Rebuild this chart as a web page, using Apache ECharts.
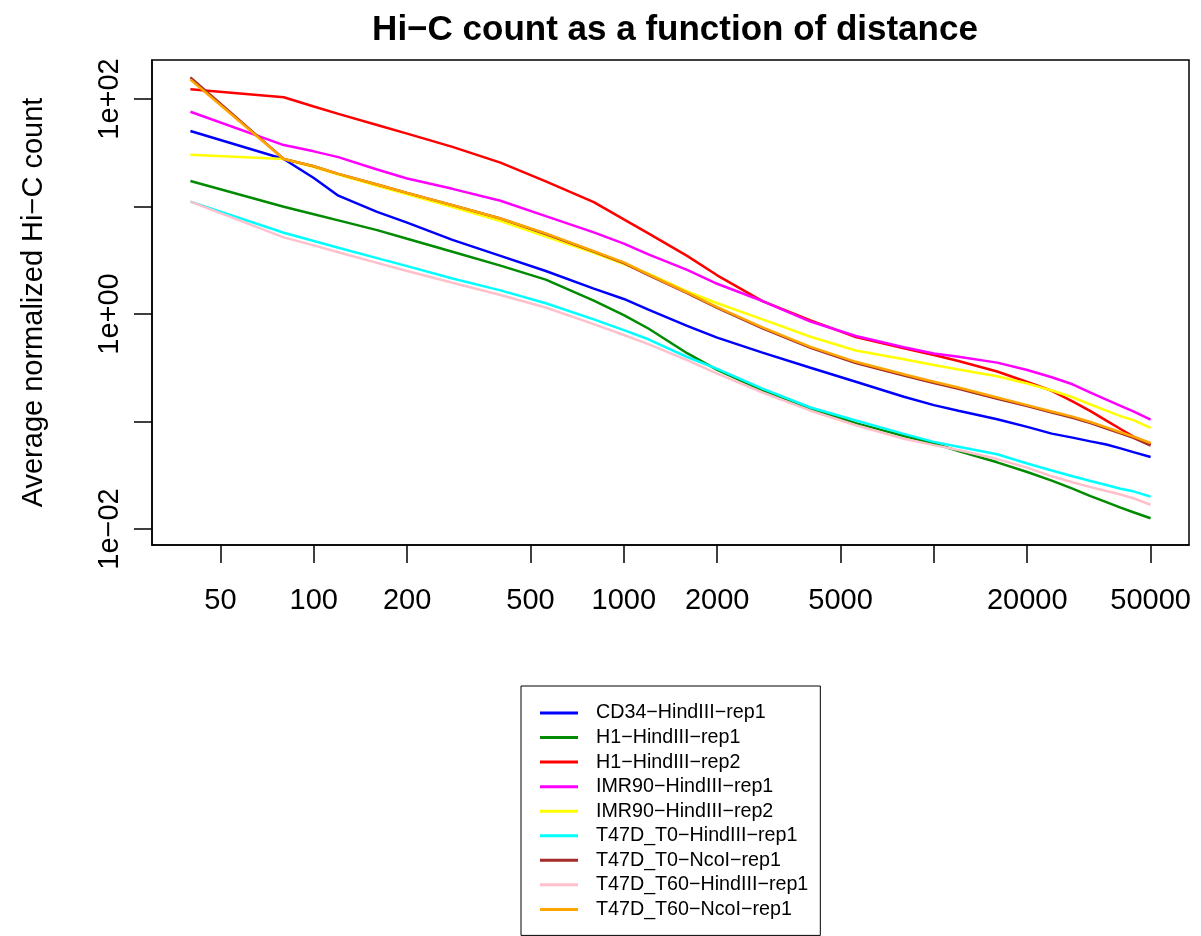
<!DOCTYPE html>
<html>
<head>
<meta charset="utf-8">
<script src="https://cdn.jsdelivr.net/npm/echarts@6/dist/echarts.min.js"></script>
<style>
html,body{margin:0;padding:0;background:#fff;}
#chart{width:1201px;height:936px;}
</style>
</head>
<body>
<div id="chart"></div>
<script>
// Distance (x) sample points
const distances = [40, 80, 100, 120, 160, 200, 280, 400, 560, 800, 1000, 1200, 1600, 2000, 2800, 4000, 5600, 8000, 10000, 12000, 16000, 20000, 24000, 28000, 32000, 36000, 40000, 44000, 50000];

// Average normalized Hi-C counts
const cd34HindIIIRep1 = [50.4, 27.7, 18.4, 12.6, 8.91, 7.08, 4.90, 3.47, 2.51, 1.72, 1.38, 1.10, 0.776, 0.603, 0.437, 0.316, 0.234, 0.170, 0.142, 0.126, 0.105, 0.0891, 0.0771, 0.0708, 0.0653, 0.0610, 0.0562, 0.0519, 0.0468];
const h1HindIIIRep1 = [17.3, 9.95, 8.46, 7.43, 6.03, 5.01, 3.80, 2.82, 2.09, 1.33, 0.977, 0.733, 0.432, 0.302, 0.195, 0.132, 0.0966, 0.0733, 0.0624, 0.0531, 0.0417, 0.0339, 0.0282, 0.0237, 0.0202, 0.0178, 0.0158, 0.0143, 0.0126];
const h1HindIIIRep2 = [123, 104, 85.1, 72.8, 57.3, 47.6, 35.9, 25.6, 17.1, 11.0, 7.59, 5.62, 3.47, 2.29, 1.32, 0.871, 0.609, 0.479, 0.415, 0.366, 0.292, 0.233, 0.193, 0.154, 0.125, 0.102, 0.0851, 0.0724, 0.0617];
const imr90HindIIIRep1 = [76.2, 37.3, 32.6, 28.8, 22.1, 18.2, 14.6, 11.3, 8.13, 5.75, 4.52, 3.59, 2.57, 1.91, 1.32, 0.851, 0.624, 0.490, 0.430, 0.400, 0.353, 0.301, 0.258, 0.222, 0.186, 0.160, 0.140, 0.124, 0.104];
const imr90HindIIIRep2 = [30.3, 27.7, 23.3, 19.8, 15.6, 13.0, 9.86, 7.33, 5.25, 3.70, 2.92, 2.37, 1.62, 1.26, 0.891, 0.614, 0.457, 0.380, 0.335, 0.305, 0.264, 0.226, 0.194, 0.168, 0.144, 0.126, 0.112, 0.103, 0.0871];
const t47dT0HindIIIRep1 = [11.1, 5.70, 4.78, 4.14, 3.31, 2.79, 2.14, 1.66, 1.26, 0.891, 0.708, 0.582, 0.398, 0.309, 0.202, 0.135, 0.102, 0.0767, 0.0646, 0.0582, 0.0495, 0.0407, 0.0350, 0.0309, 0.0280, 0.0257, 0.0237, 0.0224, 0.0200];
const t47dT0NcoIRep1 = [159, 27.7, 23.7, 20.1, 16.0, 13.4, 10.3, 7.73, 5.55, 3.80, 2.97, 2.30, 1.56, 1.14, 0.735, 0.485, 0.350, 0.268, 0.228, 0.202, 0.163, 0.139, 0.121, 0.108, 0.0965, 0.0860, 0.0775, 0.0705, 0.0598];
const t47dT60HindIIIRep1 = [11.1, 5.16, 4.35, 3.76, 2.99, 2.51, 1.95, 1.50, 1.15, 0.804, 0.638, 0.525, 0.372, 0.279, 0.186, 0.126, 0.0923, 0.0692, 0.0603, 0.0543, 0.0447, 0.0372, 0.0309, 0.0272, 0.0245, 0.0226, 0.0209, 0.0193, 0.0168];
const t47dT60NcoIRep1 = [152, 27.7, 23.7, 20.1, 16.0, 13.4, 10.3, 7.73, 5.62, 3.85, 3.02, 2.34, 1.585, 1.16, 0.750, 0.495, 0.359, 0.275, 0.234, 0.207, 0.167, 0.142, 0.124, 0.111, 0.0989, 0.0881, 0.0794, 0.0723, 0.0631];

const seriesNames = ['CD34\u2212HindIII\u2212rep1', 'H1\u2212HindIII\u2212rep1', 'H1\u2212HindIII\u2212rep2', 'IMR90\u2212HindIII\u2212rep1', 'IMR90\u2212HindIII\u2212rep2', 'T47D_T0\u2212HindIII\u2212rep1', 'T47D_T0\u2212NcoI\u2212rep1', 'T47D_T60\u2212HindIII\u2212rep1', 'T47D_T60\u2212NcoI\u2212rep1'];
const seriesValues = [cd34HindIIIRep1, h1HindIIIRep1, h1HindIIIRep2, imr90HindIIIRep1, imr90HindIIIRep2, t47dT0HindIIIRep1, t47dT0NcoIRep1, t47dT60HindIIIRep1, t47dT60NcoIRep1];
const seriesColors = ['#0000FF', '#008B00', '#FF0000', '#FF00FF', '#FFFF00', '#00FFFF', '#A52A2A', '#FFC0CB', '#FFA500'];

// Tick marks and labels
const xTickValues = [50, 100, 200, 500, 1000, 2000, 5000, 10000, 20000, 50000];
const xLabelValues = [50, 100, 200, 500, 1000, 2000, 5000, 20000, 50000];
const yTickValues = [0.01, 0.1, 1, 10, 100];
const yLabelValues = [0.01, 1, 100];
const yTickLabels = ['1e\u221202', '1e+00', '1e+02'];

const FONT = '"Liberation Sans", Arial, Helvetica, sans-serif';
const lg = Math.log10;

// R-style axis range: data range extended by 4% on each side (in log space)
const xLo = lg(distances[0]), xHi = lg(distances[distances.length - 1]);
const xPad = 0.04 * (xHi - xLo);

const chart = echarts.init(document.getElementById('chart'), null, {renderer: 'canvas'});

const series = seriesNames.map((name, k) => ({
  name: name,
  type: 'line',
  data: distances.map((d, i) => [lg(d), lg(seriesValues[k][i])]),
  showSymbol: false,
  symbol: 'none',
  smooth: false,
  lineStyle: {color: seriesColors[k], width: 2.5},
  itemStyle: {color: seriesColors[k]},
  emphasis: {disabled: true},
  z: 2 + k
}));

chart.setOption({
  animation: false,
  backgroundColor: '#ffffff',
  textStyle: {fontFamily: FONT, color: '#000'},
  title: {
    text: 'Hi\u2212C count as a function of distance',
    left: 670,
    textAlign: 'center',
    top: 8,
    textStyle: {fontFamily: FONT, fontSize: 35, fontWeight: 'bold', color: '#000'}
  },
  grid: {
    left: 152, right: 12, top: 60, bottom: 391,
    show: true, borderColor: '#000', borderWidth: 1.5, backgroundColor: 'transparent',
    containLabel: false, outerBoundsMode: 'none'
  },
  legend: {
    orient: 'vertical',
    left: 521, top: 686,
    padding: [17, 12, 16, 19],
    itemWidth: 38, itemHeight: 3,
    itemGap: 4.55,
    icon: 'rect',
    borderColor: '#000', borderWidth: 1,
    backgroundColor: '#fff',
    selectedMode: false,
    textStyle: {fontFamily: FONT, fontSize: 19.7, color: '#000', lineHeight: 20, padding: [0, 0, 0, 13]},
    data: seriesNames
  },
  xAxis: {
    type: 'value',
    min: xLo - xPad,
    max: xHi + xPad,
    axisLine: {show: true, onZero: false, lineStyle: {color: '#000', width: 1.5}},
    axisTick: {show: true, inside: false, length: 18, lineStyle: {color: '#000', width: 1.5}, customValues: xTickValues.map(lg)},
    axisLabel: {
      show: true, margin: 41, fontSize: 29, color: '#000', fontFamily: FONT,
      customValues: xLabelValues.map(lg),
      formatter: v => String(Math.round(Math.pow(10, v)))
    },
    splitLine: {show: false}
  },
  yAxis: {
    type: 'value',
    min: -2.149,
    max: 2.363,
    name: 'Average normalized Hi\u2212C count',
    nameLocation: 'middle',
    nameGap: 104,
    nameRotate: 90,
    nameTextStyle: {fontFamily: FONT, fontSize: 29, color: '#000'},
    axisLine: {show: true, onZero: false, lineStyle: {color: '#000', width: 1.5}},
    axisTick: {show: true, inside: false, length: 18, lineStyle: {color: '#000', width: 1.5}, customValues: yTickValues.map(lg)},
    axisLabel: {
      show: true, margin: 28, fontSize: 29, color: '#000', fontFamily: FONT, rotate: 90,
      customValues: yLabelValues.map(lg),
      formatter: v => {
        const i = yLabelValues.findIndex(t => Math.abs(lg(t) - v) < 1e-6);
        return i >= 0 ? yTickLabels[i] : '';
      }
    },
    splitLine: {show: false}
  },
  series: series
});
</script>
</body>
</html>
